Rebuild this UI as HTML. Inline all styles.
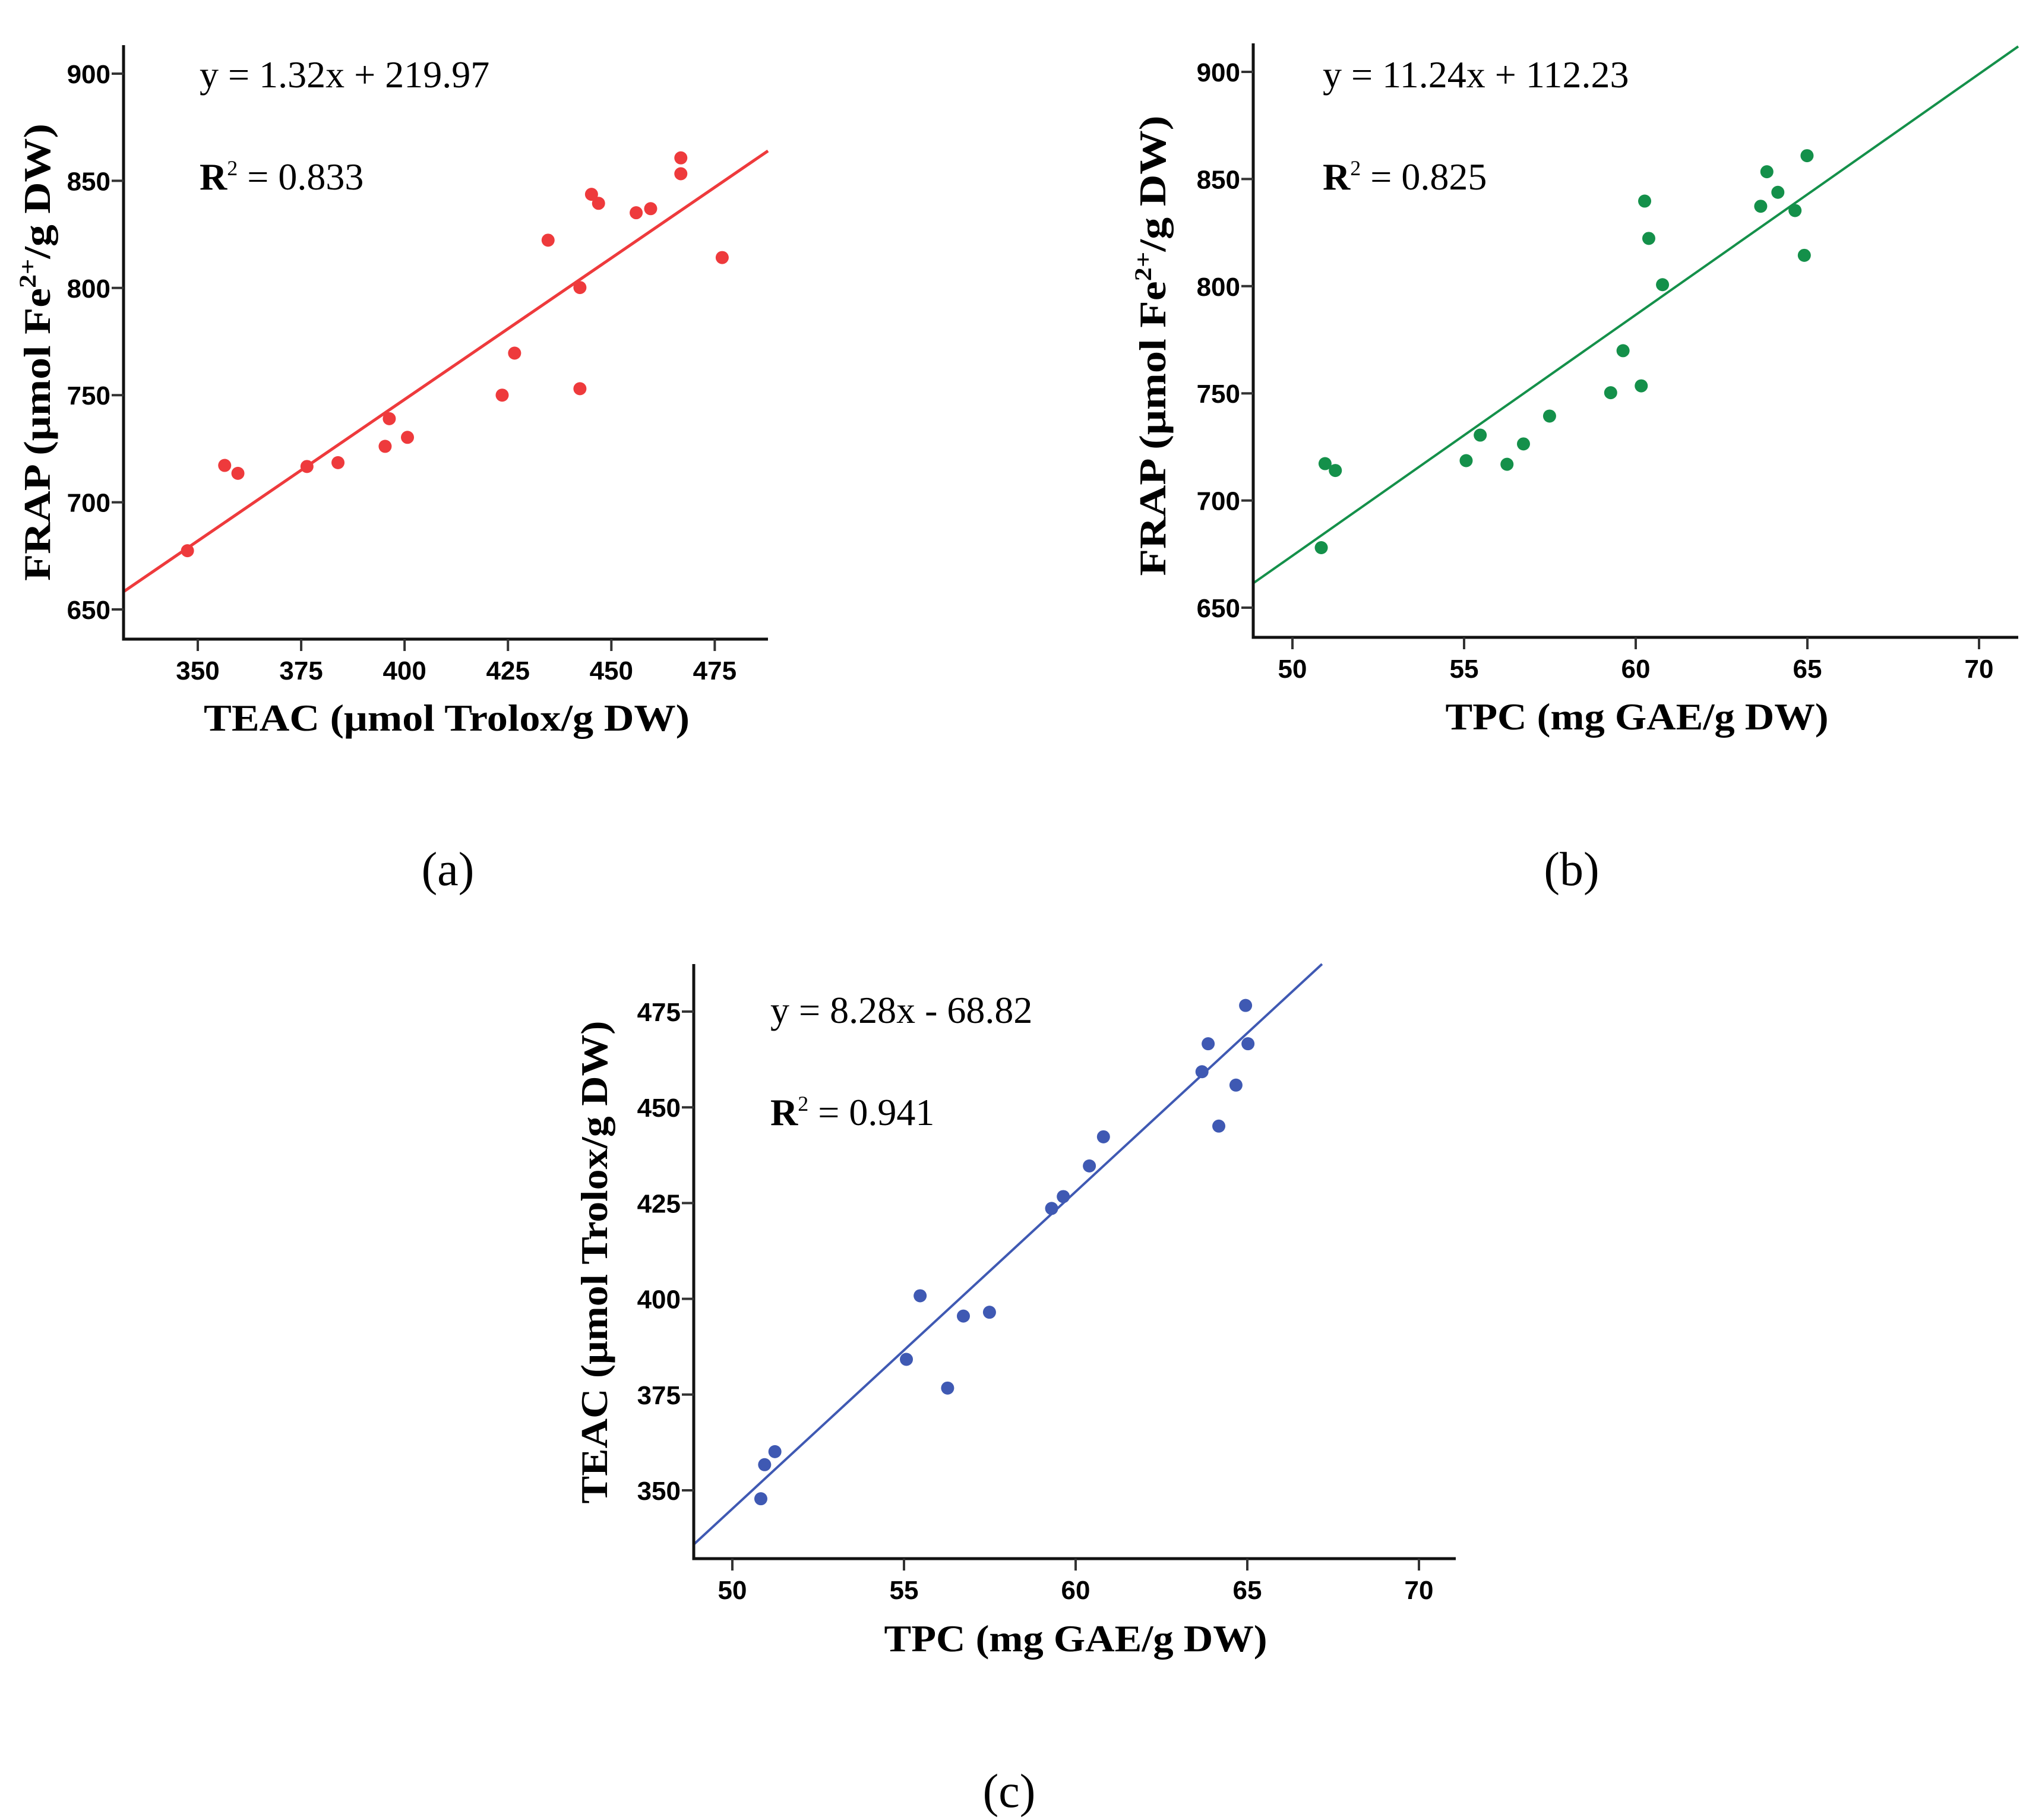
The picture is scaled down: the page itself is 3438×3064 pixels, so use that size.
<!DOCTYPE html>
<html><head><meta charset="utf-8"><style>
html,body{margin:0;padding:0;background:#fff}
svg{display:block}
</style></head><body>
<svg id="fig" width="3438" height="3064" viewBox="0 0 3438 3064" xmlns="http://www.w3.org/2000/svg"></svg>
<script>
// Panel (a): FRAP vs TEAC
const aTEAC=[347.5,356.5,359.7,376.4,383.9,395.3,396.3,400.7,423.6,426.6,434.7,442.4,442.4,445.2,446.9,456.0,459.5,466.8,466.8,476.8];
const aFRAP=[677.4,717.2,713.5,716.7,718.5,726.1,739.0,730.3,750.0,769.6,822.3,800.2,753.0,843.7,839.5,835.1,837.0,860.7,853.3,814.2];
const aXTicks=[350,375,400,425,450,475];
const aYTicks=[650,700,750,800,850,900];
const aFit=[1.32,219.97];
// Panel (b): FRAP vs TPC
const bTPC=[50.84,50.95,51.25,55.06,55.47,56.25,56.73,57.49,59.27,59.63,60.16,60.26,60.38,60.78,63.64,63.82,64.14,64.64,64.91,64.99];
const bFRAP=[678.0,717.2,714.0,718.6,730.5,716.9,726.4,739.4,750.3,769.9,753.5,839.7,822.3,800.7,837.3,853.4,843.8,835.3,814.4,860.9];
const bXTicks=[50,55,60,65,70];
const bYTicks=[650,700,750,800,850,900];
const bFit=[11.24,112.23];
// Panel (c): TEAC vs TPC
const cTPC=[50.83,50.94,51.24,55.07,55.47,56.27,56.73,57.49,59.30,59.64,60.40,60.81,63.68,63.86,64.17,64.67,64.95,65.02];
const cTEAC=[347.8,356.7,360.1,384.2,400.8,376.7,395.5,396.5,423.6,426.7,434.7,442.3,459.3,466.6,445.1,455.8,476.6,466.6];
const cXTicks=[50,55,60,65,70];
const cYTicks=[350,375,400,425,450,475];
const cFit=[8.28,-68.82];

const NS="http://www.w3.org/2000/svg";
const SERIF='"Liberation Serif", "DejaVu Serif", serif';
const SANS='"Liberation Sans", "DejaVu Sans", sans-serif';
const svg=document.getElementById('fig');
function mk(tag,attrs,parent,text){const e=document.createElementNS(NS,tag);for(const k in attrs)e.setAttribute(k,attrs[k]);if(text!==undefined)e.textContent=text;(parent||svg).appendChild(e);return e;}

function panel(p){
  const g=mk('g',{});
  
  
  const sx=v=>p.x0+(v-p.xv0)*p.xs;
  const sy=v=>p.y0-(v-p.yv0)*p.ys;
  const xmin=p.xv0+(p.L-p.x0)/p.xs, xmax=p.xv0+(p.R-p.x0)/p.xs;
  const ymin=p.yv0-(p.B-p.y0)/p.ys, ymax=p.yv0-(p.T-p.y0)/p.ys;
  let x1=xmin,x2=xmax;
  const f=x=>p.fit[0]*x+p.fit[1];
  if(f(x2)>ymax)x2=(ymax-p.fit[1])/p.fit[0];
  if(f(x1)<ymin)x1=(ymin-p.fit[1])/p.fit[0];
  const ln=mk('line',{x1:sx(x1),y1:sy(f(x1)),x2:sx(x2),y2:sy(f(x2)),stroke:p.color,'stroke-width':p.lw},g);
  
  
  p.xs_.forEach((xv,i)=>{
    const c=mk('circle',{cx:sx(xv),cy:sy(p.ys_[i]),r:11,fill:p.color},g);
    
    
  });
  const ax=mk('path',{d:`M${p.L} ${p.T} V${p.B} H${p.R}`,fill:'none',stroke:'#111','stroke-width':5},g);
  
  
  p.xt.forEach(v=>{
    mk('line',{x1:sx(v),y1:p.B,x2:sx(v),y2:p.B+20,stroke:'#333','stroke-width':4},g);
    const t=mk('text',{x:sx(v),y:p.B+68,'text-anchor':'middle','font-family':SANS,'font-weight':'bold','font-size':44},g,String(v));
    
    
  });
  p.yt.forEach(v=>{
    mk('line',{x1:p.L-20,y1:sy(v),x2:p.L,y2:sy(v),stroke:'#333','stroke-width':4},g);
    const t=mk('text',{x:p.L-22,y:sy(v)+16,'text-anchor':'end','font-family':SANS,'font-weight':'bold','font-size':44},g,String(v));
    
    
  });
  const xt=mk('text',{x:p.xtx,y:p.xty,'text-anchor':'middle','font-family':SERIF,'font-weight':'bold','font-size':64,textLength:p.xtl,lengthAdjust:'spacingAndGlyphs'},g,p.xtitle);
  
  
  const yt=mk('text',{x:0,y:0,'text-anchor':'middle','font-family':SERIF,'font-weight':'bold','font-size':64,textLength:p.ytl,lengthAdjust:'spacingAndGlyphs',transform:`translate(${p.ytx},${p.yty}) rotate(-90)`},g);
  
  
  yt.innerHTML=p.ytitle;
  const eq=mk('text',{x:p.eqx,y:p.eqy,'font-family':SERIF,'font-size':64},g,p.eq);
  
  
  const r2=mk('text',{x:p.eqx,y:p.eqy+172,'font-family':SERIF,'font-size':64},g);
  
  
  r2.innerHTML='<tspan font-weight="bold">R</tspan><tspan font-size="36" dy="-24">2</tspan><tspan dy="24"> = '+p.r2+'</tspan>';
  const lb=mk('text',{x:p.lbx,y:p.lby,'text-anchor':'middle','font-family':SERIF,'font-size':80},g,p.label);
  
  
}
const frapTitle='FRAP (μmol Fe<tspan font-size="40" dy="-24">2+</tspan><tspan dy="24">/g DW)</tspan>';
panel({name:'panel-a',xs_:aTEAC,ys_:aFRAP,xt:aXTicks,yt:aYTicks,fit:aFit,color:'#ee3a3c',lw:5,
  L:208,R:1293,T:76,B:1076,x0:333,xv0:350,xs:6.963,y0:1026,yv0:650,ys:3.608,
  xtitle:'TEAC (μmol Trolox/g DW)',xtx:752,xty:1230,xtl:818,ytitle:frapTitle,ytx:84,yty:593,ytl:770,
  eq:'y = 1.32x + 219.97',r2:'0.833',eqx:336,eqy:147,label:'(a)',lbx:754,lby:1490});
panel({name:'panel-b',xs_:bTPC,ys_:bFRAP,xt:bXTicks,yt:bYTicks,fit:bFit,color:'#14904a',lw:4,
  L:2110,R:3398,T:73,B:1073,x0:2176,xv0:50,xs:57.8,y0:1023,yv0:650,ys:3.608,
  xtitle:'TPC (mg GAE/g DW)',xtx:2756,xty:1228,xtl:645,ytitle:frapTitle,ytx:1962,yty:582,ytl:775,
  eq:'y = 11.24x + 112.23',r2:'0.825',eqx:2227,eqy:147,label:'(b)',lbx:2646,lby:1490});
panel({name:'panel-c',xs_:cTPC,ys_:cTEAC,xt:cXTicks,yt:cYTicks,fit:cFit,color:'#3f59b3',lw:4,
  L:1168,R:2451,T:1623,B:2624,x0:1233,xv0:50,xs:57.8,y0:2509,yv0:350,ys:6.448,
  xtitle:'TPC (mg GAE/g DW)',xtx:1811,xty:2780,xtl:645,ytitle:'TEAC (μmol Trolox/g DW)',ytx:1022,yty:2125,ytl:813,
  eq:'y = 8.28x - 68.82',r2:'0.941',eqx:1297,eqy:1722,label:'(c)',lbx:1699,lby:3042});
</script>
</body></html>
